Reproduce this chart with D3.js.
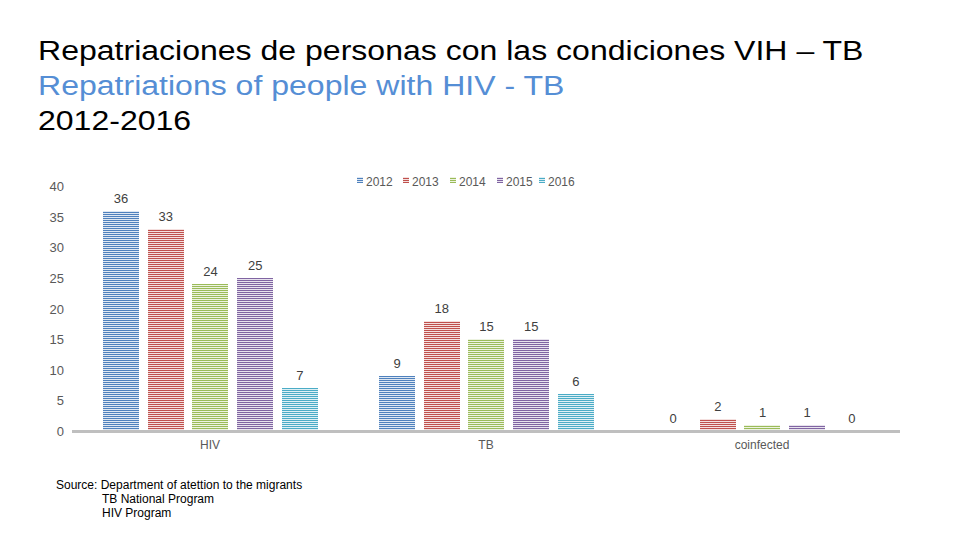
<!DOCTYPE html>
<html><head><meta charset="utf-8">
<script src="https://cdn.jsdelivr.net/npm/d3@7"></script>
<style>body{margin:0;background:#fff;}svg{display:block;font-family:"Liberation Sans",Arial,sans-serif;}</style>
</head><body>
<svg id="c" width="960" height="540"></svg>
<script>
const categories = ["HIV", "TB", "coinfected"];
const years = ["2012", "2013", "2014", "2015", "2016"];
const values2012 = [36, 9, 0];
const values2013 = [33, 18, 2];
const values2014 = [24, 15, 1];
const values2015 = [25, 15, 1];
const values2016 = [7, 6, 0];
const yTicks = [0, 5, 10, 15, 20, 25, 30, 35, 40];
const colors = ["#4f81bd", "#c0504d", "#9bbb59", "#8064a2", "#4bacc6"];
const seriesValues = [values2012, values2013, values2014, values2015, values2016];
const titleLines = ["Repatriaciones de personas con las condiciones VIH – TB", "Repatriations of people with HIV - TB", "2012-2016"];
const sourceLines = ["Source: Department of atettion to the migrants", "TB National Program", "HIV Program"];

const svg = d3.select("#c");
const defs = svg.append("defs");
colors.forEach((c, i) => {
  const p = defs.append("pattern").attr("id", "pat" + i).attr("patternUnits", "userSpaceOnUse")
    .attr("width", 4).attr("height", 2);
  p.append("rect").attr("width", 4).attr("height", 2).attr("fill", d3.interpolateRgb(c, "#fff")(0.82));
  p.append("rect").attr("width", 4).attr("height", 1).attr("fill", c);
});

// Title
const tcol = ["#000", "#558ed5", "#000"];
titleLines.forEach((t, i) => {
  svg.append("text").attr("transform", `translate(38,${60 + i * 35}) scale(1.144,1)`)
    .attr("font-size", 28).attr("fill", tcol[i]).text(t);
});

const y = d3.scaleLinear().domain([0, 40]).range([431, 186]);
const x0 = d3.scaleBand().domain(categories).range([72, 900]).paddingInner(0).paddingOuter(0);
const x1 = d3.scaleBand().domain(years).range([31, x0.bandwidth() - 30]).paddingInner(0.19).paddingOuter(0);

// y tick labels
svg.append("g").selectAll("text").data(yTicks).join("text")
  .attr("x", 64).attr("y", d => y(d) + 5).attr("text-anchor", "end")
  .attr("font-size", 13).attr("fill", "#595959").text(d => d);

// bars
years.forEach((yr, si) => {
  const g = svg.append("g");
  g.selectAll("rect").data(seriesValues[si]).join("rect")
    .attr("x", (d, i) => Math.round(x0(categories[i]) + x1(yr)))
    .attr("width", Math.round(x1.bandwidth()))
    .attr("y", d => Math.round(y(d)))
    .attr("height", d => Math.round(y(0)) - Math.round(y(d)))
    .attr("fill", "url(#pat" + si + ")");
  g.selectAll("text").data(seriesValues[si]).join("text")
    .attr("x", (d, i) => x0(categories[i]) + x1(yr) + x1.bandwidth() / 2)
    .attr("y", d => y(d) - 8)
    .attr("text-anchor", "middle").attr("font-size", 13).attr("fill", "#404040").text(d => d);
});

// baseline
svg.append("line").attr("x1", 72).attr("x2", 900).attr("y1", y(0) + 0.5).attr("y2", y(0) + 0.5)
  .attr("stroke", "#bfbfbf").attr("stroke-width", 3);

// category labels
svg.append("g").selectAll("text").data(categories).join("text")
  .attr("x", d => x0(d) + x0.bandwidth() / 2).attr("y", 449).attr("text-anchor", "middle")
  .attr("font-size", 12).attr("fill", "#595959").text(d => d);

// legend
const legX = [357, 403, 450, 497, 539];
years.forEach((yr, i) => {
  const g = svg.append("g").attr("transform", `translate(${legX[i]},182)`);
  g.append("rect").attr("x", 0).attr("y", -5).attr("width", 6).attr("height", 6).attr("fill", "url(#pat" + i + ")");
  g.append("text").attr("x", 9).attr("y", 4).attr("font-size", 12).attr("fill", "#595959").text(yr);
});

// source
sourceLines.forEach((t, i) => {
  svg.append("text").attr("x", i === 0 ? 56 : 102).attr("y", 489 + i * 14)
    .attr("font-size", 12).attr("fill", "#000").text(t);
});
</script>
</body></html>
